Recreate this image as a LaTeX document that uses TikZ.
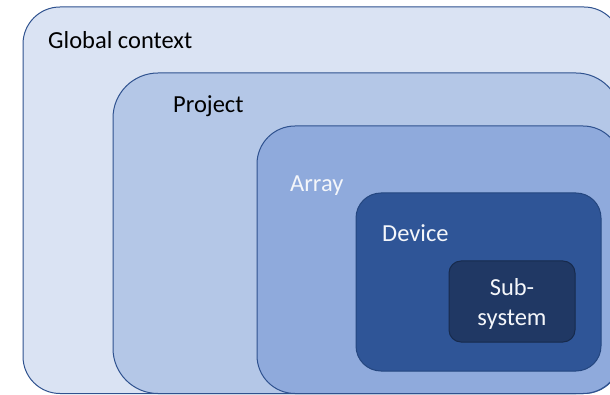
\documentclass[tikz,border=0pt]{standalone}
\usepackage{fontspec}
\setmainfont{Carlito}
\definecolor{fillA}{HTML}{DAE3F3}
\definecolor{fillB}{HTML}{B4C7E7}
\definecolor{fillC}{HTML}{8FAADC}
\definecolor{fillD}{HTML}{2F5597}
\definecolor{fillE}{HTML}{203864}
\definecolor{edgeA}{HTML}{2F528F}
\definecolor{edgeD}{HTML}{24467F}
\definecolor{edgeE}{HTML}{172A4C}
\definecolor{lighttext}{HTML}{F4F6FA}
\tikzset{
  layer/.style={draw=edgeA, line width=1pt},
  lbl/.style={anchor=base west, inner sep=0pt, font=\fontsize{24.5}{30}\selectfont},
}
\begin{document}
\begin{tikzpicture}[x=1pt, y=-1pt]
  \useasboundingbox (0,0) rectangle (610,395);
  \fill[white] (0,0) rectangle (610,395);
  \clip (0,0) rectangle (610,395);
  % nested scopes, outermost first
  \draw[layer, fill=fillA, rounded corners=37pt] (23,7) rectangle (621,393.5);
  \draw[layer, fill=fillB, rounded corners=45pt] (113,73) rectangle (621,393.5);
  \draw[layer, fill=fillC, rounded corners=38pt] (257,126) rectangle (621,393.5);
  \draw[line width=1pt, draw=edgeD, fill=fillD, rounded corners=25pt] (356,193) rectangle (601,371);
  \draw[line width=1pt, draw=edgeE, fill=fillE, rounded corners=12pt] (449,261) rectangle (575,342);
  % labels
  \node[lbl] (global) at (48,49) {Global context};
  \node[lbl] (project) at (173,113) {Project};
  \node[lbl, text=lighttext] (array) at (290,192) {Array};
  \node[lbl, text=lighttext] (device) at (382,242) {Device};
  \node[inner sep=0pt, align=center, text=lighttext,
        font=\fontsize{24.5}{30}\selectfont] (subsys) at (512,304) {Sub-\\system};
\end{tikzpicture}
\end{document}
